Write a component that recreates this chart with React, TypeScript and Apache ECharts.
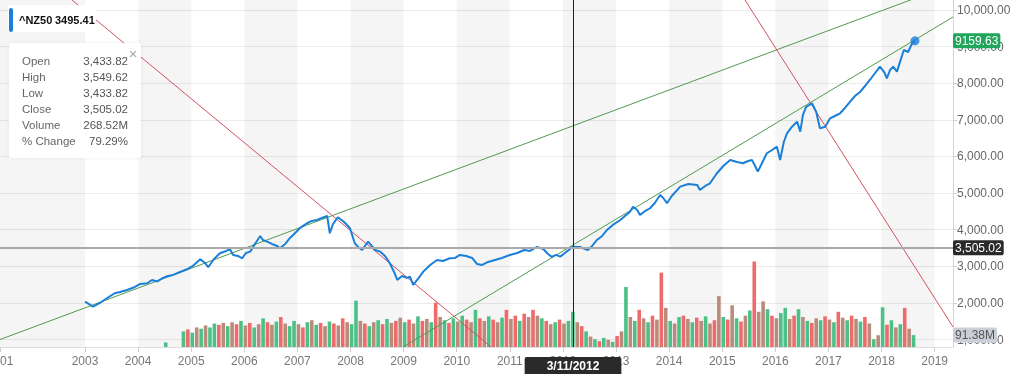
import React, { useEffect, useRef } from "react";
import * as echarts from "echarts";

// ---------- data ----------
const symbolName = "^NZ50";
const headerPrice = "3495.41";

const priceDates = [2003.00,2003.15,2003.28,2003.41,2003.56,2003.66,2003.79,2003.94,2004.04,2004.17,2004.26,2004.36,2004.47,2004.56,2004.66,2004.79,2004.92,2005.03,2005.17,2005.26,2005.32,2005.43,2005.54,2005.66,2005.73,2005.79,2005.88,2005.96,2006.03,2006.11,2006.20,2006.30,2006.35,2006.43,2006.52,2006.62,2006.67,2006.77,2006.86,2006.92,2007.05,2007.18,2007.27,2007.37,2007.46,2007.56,2007.61,2007.67,2007.76,2007.88,2007.99,2008.08,2008.16,2008.22,2008.27,2008.33,2008.40,2008.46,2008.56,2008.65,2008.74,2008.82,2008.88,2008.97,2009.06,2009.12,2009.18,2009.27,2009.37,2009.50,2009.63,2009.74,2009.87,2009.97,2010.06,2010.18,2010.29,2010.38,2010.48,2010.59,2010.72,2010.85,2011.00,2011.14,2011.27,2011.38,2011.51,2011.63,2011.72,2011.79,2011.87,2011.95,2012.06,2012.19,2012.32,2012.42,2012.47,2012.55,2012.64,2012.74,2012.83,2012.94,2013.08,2013.19,2013.26,2013.32,2013.40,2013.45,2013.55,2013.64,2013.73,2013.83,2013.89,2013.96,2014.05,2014.21,2014.36,2014.53,2014.58,2014.68,2014.77,2014.90,2015.02,2015.15,2015.28,2015.39,2015.49,2015.56,2015.62,2015.67,2015.75,2015.84,2015.94,2016.03,2016.09,2016.16,2016.22,2016.31,2016.41,2016.47,2016.52,2016.58,2016.69,2016.77,2016.84,2016.94,2017.03,2017.12,2017.22,2017.31,2017.41,2017.50,2017.60,2017.69,2017.78,2017.88,2017.97,2018.05,2018.10,2018.16,2018.22,2018.29,2018.35,2018.42,2018.50,2018.57,2018.63];

const priceValues = [2037,1900,2001,2129,2266,2301,2356,2438,2520,2539,2629,2588,2684,2738,2766,2847,2921,3011,3194,3093,2976,3202,3358,3421,3467,3312,3284,3221,3366,3402,3612,3830,3721,3675,3612,3557,3494,3612,3776,3858,4049,4177,4240,4267,4322,4376,3904,4158,4341,4212,4040,3631,3503,3448,3557,3675,3557,3448,3402,3284,3085,2847,2629,2738,2684,2719,2492,2656,2856,3039,3175,3148,3221,3230,3312,3284,3230,3066,3039,3120,3175,3230,3312,3366,3448,3421,3530,3475,3339,3257,3312,3265,3393,3538,3530,3475,3448,3557,3721,3830,3994,4131,4267,4404,4485,4630,4540,4404,4513,4587,4731,4950,4868,4723,4922,5176,5250,5223,5086,5195,5269,5542,5741,5905,5850,5815,5878,5905,5741,5586,5823,6088,6178,6268,5905,6396,6634,6806,6951,6678,7134,7352,7453,7215,6770,6814,7043,7106,7180,7325,7497,7652,7770,7925,8089,8280,8452,8307,8135,8362,8452,8316,8589,8908,8853,9072,9159.63];

// monthly volume (millions), first month = volStartYear
const volStartYear = 2004.52;
const volValues = [35,0,0,0,
120,135,110,150,140,165,150,180,170,185,
160,190,175,200,165,185,150,175,220,190,
170,195,230,180,160,200,175,150,190,205,
170,185,160,195,180,165,220,190,175,355,
200,180,160,190,205,175,215,185,200,225,
190,210,180,235,200,215,190,340,230,205,
185,220,195,240,210,190,285,220,200,235,
210,190,225,285,215,240,200,255,230,285,
240,220,200,175,190,210,180,200,270,190,
160,120,80,60,45,70,55,40,85,120,
460,230,200,285,220,190,240,210,570,300,
200,180,230,240,215,190,225,200,235,180,
205,390,230,210,320,220,195,240,280,655,
270,350,290,240,220,260,300,215,240,290,
230,200,185,220,205,235,210,190,270,225,
205,240,215,195,230,180,60,90,305,170,
205,150,175,300,140,91];
const volColors =
  "gggg" +
  "grgbgbggrb" + "gbrgbrgbgr" + "bgrbggbrgb" + "grbgrbrbgg" +
  "brgbgrgbrb" + "grbgrbgrbg" + "rgbgrbgrbg" + "rbgrbrgrbr" +
  "bgrbgrbggb" + "rgbgrgbgrb" + "gbgrbgrbrb" + "gbgrbgrbgb" +
  "rbgrbgrbgr" + "bbgrbggbrg" + "bgrbgrbgrb" + "grbgrbgbgr" + "gbgrbg";

const yTickValues = [1000, 2000, 3000, 4000, 5000, 6000, 7000, 8000, 9000, 10000];
const xYearLabels = [2003, 2004, 2005, 2006, 2007, 2008, 2009, 2010, 2011, 2012, 2013, 2014, 2015, 2016, 2017, 2018, 2019];
const firstYearLabel = "2001";
const shadedYears = [[2001.399, 2003], [2004, 2005], [2006, 2007], [2008, 2009], [2010, 2011], [2012, 2013], [2014, 2015], [2016, 2017], [2018, 2019]];

const greenTrend1 = [[2001.399, 1002], [2019.346, 10707]];
const greenTrend2 = [[2008.989, 800], [2019.346, 9809]];
const redTrend1 = [[2002.755, 10273], [2010.646, 800]];
const redTrend2 = [[2015.429, 10273], [2019.346, 1346]];

const crossDate = 2012.19;
const crossDateLabel = "3/11/2012";
const crossClose = 3505.02;
const lastDate = 2018.63;
const lastPrice = 9159.63;
const lastVolume = 91.38;

const infoLabels = ["Open", "High", "Low", "Close", "Volume", "% Change"];
const infoValues = ["3,433.82", "3,549.62", "3,433.82", "3,505.02", "268.52M", "79.29%"];

// ---------- layout constants ----------
const X_MIN = 2001.399;
const X_MAX = 2019.346;
const Y_MIN = 798.4;
const Y_MAX = 10273;
const VOL_MAX = 2660;
const FONT = "'Liberation Sans', 'Helvetica Neue', Arial, sans-serif";
const BLUE = "#1a7fd9";

const fmt2 = (v: number) =>
  v.toLocaleString("en-US", { minimumFractionDigits: 2, maximumFractionDigits: 2 });

export default function App() {
  const ref = useRef<HTMLDivElement>(null);

  useEffect(() => {
    if (!ref.current) return;
    const chart = echarts.init(ref.current, undefined, { renderer: "svg" });

    const colorMap: Record<string, string> = { g: "#4cc087", r: "#ee6a6b", b: "#b98b7b" };
    const volData = volValues.map((v, i) => ({
      value: [volStartYear + i / 12, v],
      itemStyle: { color: colorMap[volColors[i]] || colorMap.g },
    }));
    const priceData = priceDates.map((d, i) => [d, priceValues[i]]);

    const trend = (data: number[][], color: string) => ({
      type: "line",
      data,
      showSymbol: false,
      symbol: "none",
      silent: true,
      lineStyle: { color, width: 1 },
      z: 3,
    });

    const xTicks = [X_MIN, ...xYearLabels];

    const infoGraphics: any[] = [];
    infoLabels.forEach((l, i) => {
      infoGraphics.push({
        type: "text",
        x: 22,
        y: 61 + 16 * i,
        z: 102,
        style: { text: l, fill: "#666", fontSize: 11.5, fontFamily: FONT, verticalAlign: "middle", textVerticalAlign: "middle" },
      });
      infoGraphics.push({
        type: "text",
        x: 128,
        y: 61 + 16 * i,
        z: 102,
        style: { text: infoValues[i], fill: "#555", fontSize: 11.5, fontFamily: FONT, align: "right", textAlign: "right", verticalAlign: "middle", textVerticalAlign: "middle" },
      });
    });

    chart.setOption({
      animation: false,
      textStyle: { fontFamily: FONT },
      grid: { left: 0, right: 71, top: 0, bottom: 27, containLabel: false, outerBoundsMode: "none" },
      xAxis: {
        type: "value",
        min: X_MIN,
        max: X_MAX,
        axisLine: { show: true, lineStyle: { color: "#dedede" } },
        axisTick: { show: true, customValues: xTicks, length: 5, lineStyle: { color: "#cfcfcf" } },
        axisLabel: {
          customValues: xTicks,
          formatter: (v: number) => (v < 2002 ? firstYearLabel : String(Math.round(v))),
          color: "#777",
          fontSize: 12,
          margin: 8,
          fontFamily: FONT,
        },
        splitLine: { show: false },
      },
      yAxis: [
        {
          type: "value",
          position: "right",
          min: Y_MIN,
          max: Y_MAX,
          axisLine: { show: true, lineStyle: { color: "#d4d4d4" } },
          axisTick: { show: true, customValues: yTickValues, length: 4, lineStyle: { color: "#cfcfcf" } },
          axisLabel: { customValues: yTickValues, formatter: (v: number) => fmt2(v), color: "#666", fontSize: 12, margin: 4, fontFamily: FONT },
          splitLine: { show: true, lineStyle: { color: "#ebebeb" } },
        },
        { type: "value", min: 0, max: VOL_MAX, show: false },
      ],
      series: [
        {
          type: "line",
          data: [],
          silent: true,
          z: 1,
          markArea: {
            silent: true,
            itemStyle: { color: "rgba(0,0,0,0.04)" },
            data: shadedYears.map(([a, b]) => [{ xAxis: a }, { xAxis: b }]),
          },
        },
        {
          type: "bar",
          yAxisIndex: 1,
          data: volData,
          barWidth: 3.6,
          silent: true,
          z: 2,
          markLine: {
            silent: true,
            symbol: ["none", "none"],
            data: [
              {
                yAxis: lastVolume,
                lineStyle: { color: "rgba(0,0,0,0)", width: 0 },
                label: {
                  show: true,
                  position: "end",
                  distance: 0,
                  formatter: lastVolume.toFixed(2) + "M",
                  backgroundColor: "#cbd0d8",
                  color: "#555",
                  fontSize: 12,
                  fontFamily: FONT,
                  padding: [2, 2, 1, 2],
                  borderRadius: 2,
                },
              },
            ],
          },
        },
        trend(greenTrend1, "#4f9a4f"),
        trend(greenTrend2, "#4f9a4f"),
        trend(redTrend1, "#cf5360"),
        trend(redTrend2, "#cf5360"),
        {
          type: "line",
          data: priceData,
          showSymbol: false,
          symbol: "none",
          silent: true,
          z: 4,
          lineStyle: { color: BLUE, width: 2 },
          markLine: {
            silent: true,
            symbol: ["none", "none"],
            z: 6,
            data: [
              {
                xAxis: crossDate,
                lineStyle: { color: "#222", width: 1, type: "solid" },
                label: {
                  show: true,
                  position: "start",
                  distance: 10,
                  formatter: crossDateLabel,
                  backgroundColor: "#2a2a2a",
                  color: "#fff",
                  fontWeight: "bold",
                  fontSize: 12,
                  fontFamily: FONT,
                  padding: [3, 22, 8, 22],
                  borderRadius: 2,
                },
              },
              {
                yAxis: crossClose,
                lineStyle: { color: "#a9a9a9", width: 2, type: "solid" },
                label: {
                  show: true,
                  position: "end",
                  distance: 0,
                  formatter: fmt2(crossClose),
                  backgroundColor: "#2a2a2a",
                  color: "#fff",
                  fontSize: 12,
                  fontFamily: FONT,
                  padding: [2, 2, 1, 2],
                  borderRadius: 2,
                },
              },
              {
                yAxis: lastPrice,
                lineStyle: { color: "rgba(0,0,0,0)", width: 0 },
                label: {
                  show: true,
                  position: "end",
                  distance: 0,
                  formatter: String(lastPrice),
                  backgroundColor: "#1fa65b",
                  color: "#fff",
                  fontSize: 12,
                  fontFamily: FONT,
                  padding: [2, 2, 1, 2],
                  borderRadius: 2,
                },
              },
            ],
          },
        },
        {
          type: "scatter",
          data: [[lastDate, lastPrice]],
          symbolSize: 9,
          silent: true,
          z: 5,
          itemStyle: { color: BLUE },
        },
      ],
      graphic: [
        { type: "rect", z: 100, shape: { x: 8, y: 5, width: 88, height: 27, r: 2 }, style: { fill: "#fff" } },
        { type: "rect", z: 101, shape: { x: 9, y: 8, width: 4, height: 24, r: 2 }, style: { fill: BLUE } },
        { type: "text", z: 101, x: 19, y: 20, style: { text: symbolName, fill: "#111", fontSize: 11, fontWeight: "bold", fontFamily: FONT, verticalAlign: "middle", textVerticalAlign: "middle" } },
        { type: "text", z: 101, x: 55, y: 20, style: { text: headerPrice, fill: "#111", fontSize: 11, fontWeight: "bold", fontFamily: FONT, verticalAlign: "middle", textVerticalAlign: "middle" } },
        { type: "rect", z: 100, shape: { x: 9, y: 43, width: 132, height: 115, r: 3 }, style: { fill: "#fff", shadowBlur: 4, shadowColor: "rgba(0,0,0,0.06)" } },
        { type: "text", z: 102, x: 133, y: 53, style: { text: "×", fill: "#a8a8a8", fontSize: 15, fontFamily: FONT, align: "center", textAlign: "center", verticalAlign: "middle", textVerticalAlign: "middle" } },
        ...infoGraphics,
      ],
    });

    return () => chart.dispose();
  }, []);

  return <div ref={ref} style={{ position: "fixed", left: 0, top: 0, width: 1024, height: 374 }} />;
}
